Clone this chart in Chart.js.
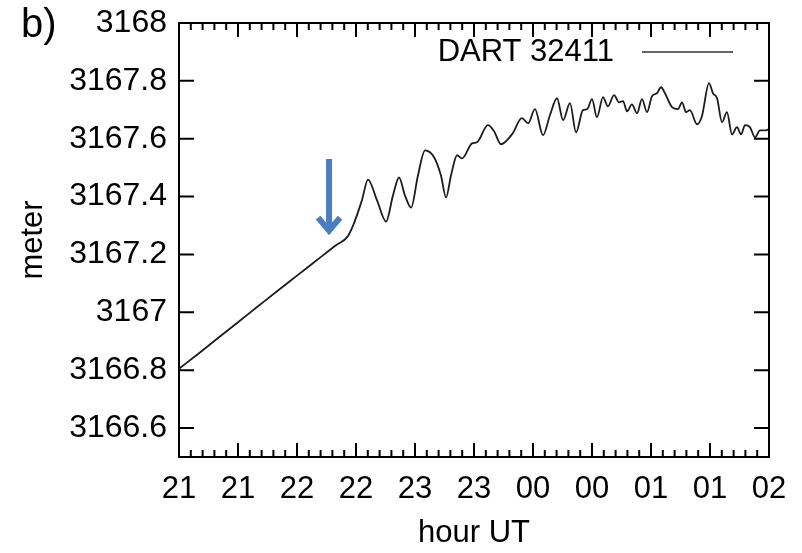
<!DOCTYPE html>
<html><head><meta charset="utf-8">
<script src="https://cdn.jsdelivr.net/npm/chart.js@4/dist/chart.umd.min.js"></script>
<style>html,body{margin:0;padding:0;background:#fff;}canvas{display:block;}</style>
</head><body>
<canvas id="c" width="802" height="553"></canvas>
<script>
// minutes after 21:00 UT
const timeMinutes = [0,10,20,30,40,50,60,70,80,85.4,88.5,93,96.1,100.7,105.3,108.8,111.9,114.9,118,121.5,125.1,129.7,133.2,135.8,138.3,141.4,143.9,149,151.5,157.1,160.2,163.7,169.3,174.4,177.5,181,185.1,188.6,192.2,195.3,198.8,201.9,205.4,207.5,210,212.5,215.6,218.1,221.2,223.7,225.8,227.8,230.3,232.9,235.4,238,240.5,243,245.1,247.1,250.7,253.7,255.8,257.8,259.8,263.4,265.9,269.5,271.5,273.6,276.1,278.6,281.2,283.7,285.8,287.8,290.3,292.9,295.4,298.4,300];
const depthMeters = [3166.805,3166.858,3166.912,3166.966,3167.020,3167.074,3167.127,3167.180,3167.233,3167.259,3167.300,3167.387,3167.459,3167.387,3167.314,3167.404,3167.466,3167.404,3167.362,3167.473,3167.560,3167.536,3167.473,3167.397,3167.473,3167.543,3167.532,3167.584,3167.588,3167.647,3167.626,3167.581,3167.615,3167.671,3167.653,3167.702,3167.612,3167.681,3167.740,3167.664,3167.723,3167.622,3167.699,3167.702,3167.737,3167.674,3167.744,3167.712,3167.751,3167.726,3167.730,3167.695,3167.719,3167.688,3167.737,3167.692,3167.747,3167.757,3167.778,3167.757,3167.709,3167.702,3167.726,3167.692,3167.699,3167.650,3167.678,3167.792,3167.757,3167.740,3167.657,3167.692,3167.615,3167.640,3167.615,3167.647,3167.640,3167.605,3167.629,3167.629,3167.633];
const xTickValues = [0,30,60,90,120,150,180,210,240,270,300];
const xTickLabels = ['21','21','22','22','23','23','00','00','01','01','02'];
const xMinorPerMajor = 5;
const yTickValues = [3166.6,3166.8,3167,3167.2,3167.4,3167.6,3167.8,3168];
const yTickLabels = ['3166.6','3166.8','3167','3167.2','3167.4','3167.6','3167.8','3168'];
const seriesName = 'DART 32411';
const panelLabel = 'b)';
const arrowTime = 76.3, arrowTopValue = 3167.53, arrowTipValue = 3167.265;

const FONT = "'Liberation Sans', Arial, Helvetica, sans-serif";

const decorPlugin = {
  id: 'decor',
  afterDatasetsDraw(chart) {
    const {ctx, chartArea: a, scales: {x, y}} = chart;
    ctx.save();
    ctx.strokeStyle = '#000';
    ctx.lineWidth = 2;
    ctx.beginPath();
    for (let i = 0; i < xTickValues.length; i++) {
      const v = xTickValues[i];
      const px = x.getPixelForValue(v);
      ctx.moveTo(px, a.bottom); ctx.lineTo(px, a.bottom - 14);
      ctx.moveTo(px, a.top); ctx.lineTo(px, a.top + 14);
      if (i < xTickValues.length - 1) {
        const step = (xTickValues[i + 1] - v) / xMinorPerMajor;
        for (let k = 1; k < xMinorPerMajor; k++) {
          const mx = x.getPixelForValue(v + k * step);
          ctx.moveTo(mx, a.bottom); ctx.lineTo(mx, a.bottom - 7);
          ctx.moveTo(mx, a.top); ctx.lineTo(mx, a.top + 7);
        }
      }
    }
    yTickValues.forEach(v => {
      const py = y.getPixelForValue(v);
      ctx.moveTo(a.left, py); ctx.lineTo(a.left + 15, py);
      ctx.moveTo(a.right, py); ctx.lineTo(a.right - 15, py);
    });
    ctx.stroke();
    ctx.strokeRect(a.left, a.top, a.right - a.left, a.bottom - a.top);

    // arrow
    const ax = x.getPixelForValue(arrowTime);
    const aTop = y.getPixelForValue(arrowTopValue);
    const aTip = y.getPixelForValue(arrowTipValue);
    ctx.strokeStyle = '#4a7ec2';
    ctx.lineWidth = 6;
    ctx.lineCap = 'butt';
    ctx.lineJoin = 'miter';
    ctx.beginPath();
    ctx.moveTo(ax, aTop); ctx.lineTo(ax, aTip - 4);
    ctx.stroke();
    ctx.beginPath();
    ctx.moveTo(ax - 11, aTip - 18); ctx.lineTo(ax, aTip - 5); ctx.lineTo(ax + 11, aTip - 18);
    ctx.stroke();

    // legend
    ctx.font = '31px ' + FONT;
    ctx.fillStyle = '#000';
    ctx.textAlign = 'right';
    ctx.textBaseline = 'middle';
    const ly = a.top + 29;
    ctx.fillText(seriesName, a.right - 155, ly);
    ctx.strokeStyle = '#333';
    ctx.lineWidth = 1.5;
    ctx.beginPath();
    ctx.moveTo(a.right - 127, ly); ctx.lineTo(a.right - 36, ly);
    ctx.stroke();

    // panel label
    ctx.font = '40px ' + FONT;
    ctx.textAlign = 'left';
    ctx.textBaseline = 'alphabetic';
    ctx.fillText(panelLabel, 21, 37);
    ctx.restore();
  }
};

new Chart(document.getElementById('c'), {
  type: 'line',
  data: {
    datasets: [{
      label: seriesName,
      data: timeMinutes.map((t, i) => ({x: t, y: depthMeters[i]})),
      borderColor: '#1c1c1c',
      borderWidth: 1.8,
      pointRadius: 0,
      cubicInterpolationMode: 'monotone',
      fill: false
    }]
  },
  options: {
    responsive: false,
    animation: false,
    layout: {padding: {top: 23, right: 33, left: 0, bottom: 0}},
    plugins: {legend: {display: false}, tooltip: {enabled: false}},
    scales: {
      x: {
        type: 'linear', min: 0, max: 300,
        grid: {display: false, drawTicks: false},
        border: {display: false},
        afterFit(s) { s.height = 96; },
        afterBuildTicks(s) { s.ticks = xTickValues.map(v => ({value: v})); },
        ticks: {
          autoSkip: false, maxRotation: 0, padding: 14, color: '#000',
          font: {family: FONT, size: 31, lineHeight: 1.2},
          callback: (v, i) => xTickLabels[i]
        },
        title: {display: true, text: 'hour UT', color: '#000',
          font: {family: FONT, size: 31, lineHeight: 1}, padding: {top: 0, bottom: 4}}
      },
      y: {
        type: 'linear', min: 3166.5, max: 3168,
        grid: {display: false, drawTicks: false},
        border: {display: false},
        afterFit(s) { s.width = 179; s.paddingTop = 0; s.paddingBottom = 0; },
        afterBuildTicks(s) { s.ticks = yTickValues.map(v => ({value: v})); },
        ticks: {
          autoSkip: false, padding: 12, color: '#000',
          font: {family: FONT, size: 32, lineHeight: 0.6},
          callback: (v, i) => yTickLabels[i]
        },
        title: {display: true, text: 'meter', color: '#000',
          font: {family: FONT, size: 31, lineHeight: 1}, padding: {top: 18, bottom: 0}}
      }
    }
  },
  plugins: [decorPlugin]
});
</script>
</body></html>
